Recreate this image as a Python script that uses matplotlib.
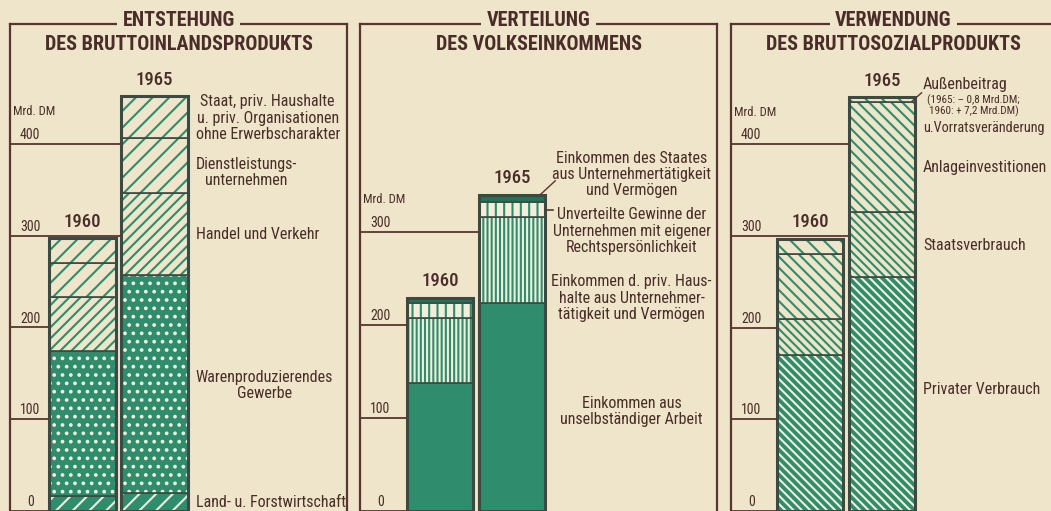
import numpy as np
import matplotlib.pyplot as plt

plt.rcParams['font.family'] = ['Roboto Condensed', 'Archivo Narrow', 'Liberation Sans']
plt.rcParams['hatch.linewidth'] = 1.5

BG = '#eee5ca'
GREEN = '#2f8c6c'
DKGREEN = '#23725a'
LIGHT = '#f1eedc'
DARK = '#3b4a42'
BROWN = '#5a3530'
TEXT = '#4a2c28'

years = ['1960', '1965']

# Entstehung des Bruttoinlandsprodukts (Mrd. DM), bottom -> top
bip_1960 = [16, 158, 59, 37, 27]
bip_1965 = [20, 237, 89, 60, 46]
bip_labels = ['Land- u. Forstwirtschaft', 'Warenproduzierendes\nGewerbe', 'Handel und Verkehr',
              'Dienstleistungs-\nunternehmen', 'Staat, priv. Haushalte\nu. priv. Organisationen\nohne Erwerbscharakter']

# Verteilung des Volkseinkommens
ve_1960 = [138, 70, 16, 5]
ve_1965 = [224, 92, 16, 8]
ve_labels = ['Einkommen aus\nunselbständiger Arbeit',
             'Einkommen d. priv. Haus-\nhalte aus Unternehmer-\ntätigkeit und Vermögen',
             'Unverteilte Gewinne der\nUnternehmen mit eigener\nRechtspersönlichkeit',
             'Einkommen des Staates\naus Unternehmertätigkeit\nund Vermögen']

# Verwendung des Bruttosozialprodukts
bsp_1960 = [170, 39, 71, 17]
bsp_1965 = [255, 71, 120, 5]
bsp_labels = ['Privater Verbrauch', 'Staatsverbrauch', 'Anlageinvestitionen', 'Außenbeitrag']

W = 0.92

# (face, hatch colour, hatch)
bip_styles = [(GREEN, LIGHT, '//'), (GREEN, LIGHT, '..'), (BG, GREEN, '///'),
              (BG, GREEN, '//'), (BG, GREEN, '//')]
ve_styles = [(GREEN, GREEN, None), (GREEN, LIGHT, '||||'), (LIGHT, GREEN, '||'), (DKGREEN, DKGREEN, None)]
bsp_styles = [(GREEN, LIGHT, '\\\\\\\\'), (BG, GREEN, '\\\\\\\\'), (BG, GREEN, '\\\\\\'), (BG, GREEN, '\\\\')]


def make_axes(left, right, top_val, x0, x1):
    ax = fig.add_axes([left / 1051, 0, (right - left) / 1051, (511 - 24) / 511])
    ax.set_facecolor('none')
    ax.set_xlim(x0, x1)
    ax.set_ylim(0, top_val)
    ax.set_xticks([])
    ax.set_yticks([])
    ax.spines['bottom'].set_visible(False)
    for s in ['left', 'right', 'top']:
        ax.spines[s].set_color(BROWN)
        ax.spines[s].set_linewidth(1.6)
    return ax


def stacked(ax, v60, v65, styles):
    for i, vals in enumerate([v60, v65]):
        bottom = 0
        for v, (fc, hc, h) in zip(vals, styles):
            ax.bar(i, v, width=W, bottom=bottom, facecolor=fc, edgecolor=hc, hatch=h, linewidth=0)
            ax.bar(i, v, width=W, bottom=bottom, fill=False, edgecolor=DARK, linewidth=1.2)
            bottom += v
        ax.bar(i, bottom, width=W, fill=False, edgecolor=DARK, linewidth=2.2)
        ax.text(i, bottom + 18, years[i], ha='center', va='center', fontsize=13.5, color=TEXT,
                weight='medium')


def axis_ticks(ax, ticks, totals):
    x0 = ax.get_xlim()[0]
    for t in ticks:
        xend = -W / 2 if totals[0] > t else 1 - W / 2
        ax.hlines(t, x0, xend, color=BROWN, lw=1.3, clip_on=False)
        ax.text(x0 + 0.28, t + 2, str(t), ha='center', va='bottom', fontsize=10, color=TEXT)
    ax.text(x0 + 0.04, ticks[-1] + 35, 'Mrd. DM', ha='left', va='center', fontsize=9, color=TEXT)


def titles(ax, t1, t2):
    ax.text(0.5, 1.008, t1, transform=ax.transAxes, ha='center', va='center', fontsize=14.5,
            weight='bold', color=TEXT, bbox=dict(fc=BG, ec='none', pad=4), zorder=5, clip_on=False)
    ax.text(0.5, 0.957, t2, transform=ax.transAxes, ha='center', va='center', fontsize=14.5,
            weight='bold', color=TEXT)


fig = plt.figure(figsize=(10.51, 5.11), dpi=100)
fig.patch.set_facecolor(BG)

# panel 1
ax1 = make_axes(10, 347, 530.5, -1.007, 3.674)
stacked(ax1, bip_1960, bip_1965, bip_styles)
axis_ticks(ax1, [0, 100, 200, 300, 400], [sum(bip_1960), sum(bip_1965)])
titles(ax1, 'ENTSTEHUNG', 'DES BRUTTOINLANDSPRODUKTS')
for lab, y in zip(bip_labels, [9, 137, 301, 369, 428]):
    ax1.text(1.57, y, lab, ha='left', va='center', multialignment='center', fontsize=11.5, color=TEXT,
             linespacing=1.1)

# panel 2
ax2 = make_axes(360, 717, 523.7, -1.111, 3.847)
stacked(ax2, ve_1960, ve_1965, ve_styles)
axis_ticks(ax2, [0, 100, 200, 300], [sum(ve_1960), sum(ve_1965)])
titles(ax2, 'VERTEILUNG', 'DES VOLKSEINKOMMENS')
for lab, y in zip(ve_labels, [107, 229, 301, 362]):
    ax2.text(2.66, y, lab, ha='center', va='center', multialignment='center', fontsize=11.5, color=TEXT,
             linespacing=1.1)
top65 = sum(ve_1965)
ax2.plot([1.39, 1.6], [top65, top65 + 15], color=BROWN, lw=1)
ymid = sum(ve_1965[:2]) + ve_1965[2] / 2
ax2.plot([1 + W / 2, 1.57], [ymid, ymid], color=BROWN, lw=1.2)

# panel 3
ax3 = make_axes(731, 1056, 531, -1.097, 3.417)
stacked(ax3, bsp_1960, bsp_1965, bsp_styles)
axis_ticks(ax3, [0, 100, 200, 300, 400], [sum(bsp_1960), sum(bsp_1965)])
titles(ax3, 'VERWENDUNG', 'DES BRUTTOSOZIALPRODUKTS')
for lab, y in zip(bsp_labels[:3], [132, 290, 375]):
    ax3.text(1.57, y, lab, ha='left', va='center', fontsize=11.5, color=TEXT)
ax3.text(1.57, 464.6, bsp_labels[3], ha='left', va='center', fontsize=11.5, color=TEXT)
ax3.text(1.63, 441.6, '(1965: \u2013 0,8 Mrd.DM;\n1960: + 7,2 Mrd.DM)', ha='left', va='center',
         multialignment='center', fontsize=8, color=TEXT, linespacing=1.0)
ax3.text(1.57, 417.7, 'u.Vorratsveränderung', ha='left', va='center', fontsize=10.3, color=TEXT)
top65 = sum(bsp_1965)
ax3.plot([1.42, 1.55], [top65 - 4, top65 + 5], color=BROWN, lw=1)

fig.savefig('out.png', dpi=100, facecolor=BG)
